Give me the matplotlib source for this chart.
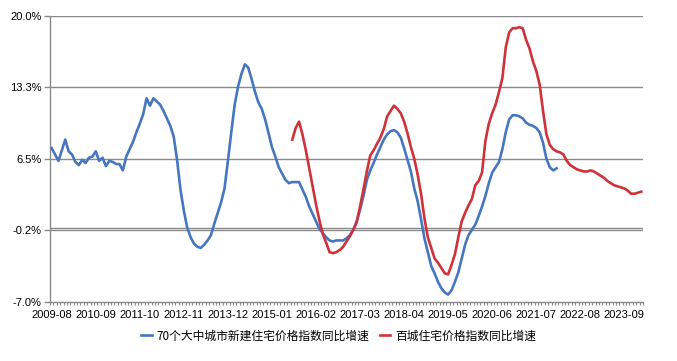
import numpy as np
import pandas as pd
import matplotlib
matplotlib.use('Agg')
import matplotlib.pyplot as plt

plt.rcParams['font.family'] = ['Liberation Sans', 'Noto Sans CJK SC', 'DejaVu Sans']

# monthly data, first month 2009-08
start_month = '2009-08'
n_months = 175

# 70 city new home price index yoy (%), from 2009-08
city70 = [7.5, 6.9, 6.3, 7.3, 8.3, 7.2, 6.9, 6.2, 5.9, 6.4,
          6.1, 6.6, 6.7, 7.2, 6.3, 6.6, 5.8, 6.3, 6.2, 6.0,
          6.0, 5.4, 6.7, 7.4, 8.1, 9.0, 9.8, 10.7, 12.2, 11.5,
          12.2, 11.9, 11.6, 11.0, 10.3, 9.6, 8.6, 6.4, 3.6, 1.6,
          0.0, -0.9, -1.5, -1.8, -1.9, -1.6, -1.2, -0.7, 0.4, 1.4,
          2.4, 3.7, 6.3, 9.0, 11.6, 13.3, 14.5, 15.4, 15.1, 14.0,
          12.8, 11.8, 11.2, 10.2, 8.9, 7.6, 6.7, 5.7, 5.1, 4.5,
          4.2, 4.3, 4.3, 4.3, 3.6, 2.9, 2.0, 1.3, 0.6, -0.1,
          -0.5, -0.9, -1.2, -1.3, -1.2, -1.2, -1.2, -1.0, -0.7, -0.2,
          0.6, 1.7, 3.0, 4.5, 5.4, 6.1, 6.9, 7.6, 8.3, 8.8,
          9.1, 9.2, 9.0, 8.5, 7.5, 6.4, 5.3, 3.7, 2.5, 0.8,
          -1.0, -2.3, -3.6, -4.3, -5.1, -5.7, -6.1, -6.3, -5.9, -5.1,
          -4.2, -2.9, -1.6, -0.7, -0.2, 0.3, 1.1, 2.0, 3.0, 4.2,
          5.2, 5.7, 6.2, 7.4, 9.0, 10.2, 10.6, 10.6, 10.5, 10.3,
          9.9, 9.7, 9.6, 9.4, 9.0, 8.0, 6.5, 5.7, 5.4, 5.6]

# 100 city home price index yoy (%), from 2015-07
city100_start = 71
city100 = [8.3, 9.4, 10.0, 8.8, 7.3, 5.6, 3.9, 2.2, 0.7,
           -0.6, -1.4, -2.3, -2.4, -2.3, -2.1, -1.8, -1.3, -0.8, -0.2,
           0.5, 2.0, 3.6, 5.3, 6.8, 7.3, 7.9, 8.5, 9.3, 10.5,
           11.0, 11.5, 11.2, 10.8, 10.0, 8.9, 7.6, 6.5, 5.0, 3.2,
           0.9, -0.9, -1.9, -2.9, -3.3, -3.8, -4.3, -4.4, -3.5, -2.5,
           -0.9, 0.6, 1.4, 2.1, 2.7, 4.0, 4.4, 5.2, 8.2, 9.8,
           10.8, 11.6, 12.8, 14.1, 17.0, 18.4, 18.8, 18.8, 18.9, 18.8,
           17.7, 16.9, 15.7, 14.8, 13.5, 11.0, 8.8, 7.8, 7.4, 7.2,
           7.1, 6.9, 6.3, 5.9, 5.7, 5.5, 5.4, 5.3, 5.3, 5.4,
           5.3, 5.1, 4.9, 4.7, 4.4, 4.2, 4.0, 3.9, 3.8, 3.7,
           3.5, 3.2, 3.2, 3.3, 3.4]

y_ticks = [-7.0, -0.25, 6.5, 13.25, 20.0]
y_labels = ['-7.0%', '-0.2%', '6.5%', '13.3%', '20.0%']

label_names = ['70个大中城市新建住宅价格指数同比增速', '百城住宅价格指数同比增速']

months = pd.period_range(start_month, periods=n_months, freq='M')
x_labels = [str(m) for m in months]

fig = plt.figure(figsize=(6.77, 3.61), dpi=100)
ax = fig.add_axes([50 / 677, 1 - 302 / 361, 593 / 677, 286.5 / 361])

gray = '#8a8a8a'
for y in y_ticks[1:]:
    ax.axhline(y, color=gray, lw=1.0, zorder=1)
ax.axhline(0, color=gray, lw=1.0, zorder=1)

x70 = np.arange(len(city70))
x100 = np.arange(len(city100)) + city100_start
ax.plot(x70, city70, color='#4676C0', lw=1.9, label=label_names[0], zorder=3,
        solid_joinstyle='round')
ax.plot(x100, city100, color='#D0323A', lw=1.9, label=label_names[1], zorder=3,
        solid_joinstyle='round')

ax.set_xlim(-0.5, n_months - 0.5)
ax.set_ylim(-7, 20)

ax.set_yticks(y_ticks)
ax.set_yticklabels(y_labels, fontsize=8)
ax.tick_params(axis='y', length=4, color=gray, width=1.0, pad=2)

major = np.arange(0, n_months, 13)
ax.set_xticks(major)
ax.set_xticklabels([x_labels[i] for i in major], fontsize=8)
ax.set_xticks(np.arange(n_months + 1) - 0.5, minor=True)
ax.tick_params(axis='x', which='major', length=0, pad=6)
ax.tick_params(axis='x', which='minor', length=2.5, color=gray, width=0.8)

for s in ['top', 'right']:
    ax.spines[s].set_visible(False)
for s in ['left', 'bottom']:
    ax.spines[s].set_color(gray)
    ax.spines[s].set_linewidth(1.0)

leg = fig.legend(loc='center', bbox_to_anchor=(0.5, 1 - 336 / 361), ncol=2, frameon=False,
                 prop={'family': ['Noto Sans CJK SC', 'DejaVu Sans'], 'size': 8.5},
                 handlelength=0.9, handletextpad=0.4, columnspacing=0.9)

fig.savefig('out.png', dpi=100)
